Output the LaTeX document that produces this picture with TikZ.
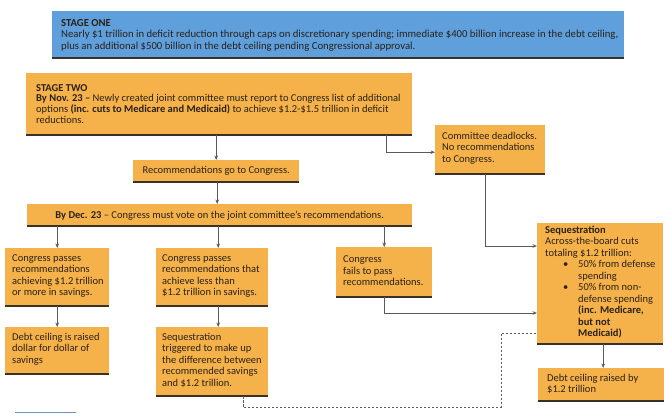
\documentclass[tikz,border=0pt]{standalone}
\usepackage{fontspec}
\setmainfont{Carlito}
\usetikzlibrary{arrows.meta,calc}
\definecolor{orng}{HTML}{F5B24A}
\definecolor{blu}{HTML}{5E9FDC}
\definecolor{edge}{HTML}{3A3129}
\definecolor{txt}{HTML}{2B2118}
\definecolor{arrc}{HTML}{5A5A5A}
\newcommand{\tb}[5]{\vbox to #2pt{\hsize=#1pt\parindent=0pt\leftskip=#3pt\rightskip=0pt plus 1fil\parfillskip=0pt plus 1fil\vskip#4pt\relax #5\par\vfil}}
\tikzset{
  base/.style={inner sep=0pt, anchor=north west, text=txt,
    path picture={\draw[edge, line width=3.2pt] (path picture bounding box.south west) -- (path picture bounding box.south east);}},
  obox/.style={base, fill=orng, font=\fontsize{10.5}{11.5}\selectfont},
  bbox/.style={base, fill=blu, font=\fontsize{10.7}{11.4}\selectfont},
  cbox/.style={obox, anchor=north west, align=center},
  arr/.style={draw=arrc, line width=0.9pt, -{Stealth[length=4.5pt,width=3.6pt]}},
  dsh/.style={draw=arrc, line width=0.9pt, dash pattern=on 2.2pt off 1.8pt},
}
\begin{document}
\begin{tikzpicture}[x=1pt,y=-1pt]
\useasboundingbox (0,0) rectangle (670,413);
\node[bbox] (s1) at (52,11) {\tb{572}{47}{9}{8}{\textbf{STAGE ONE}\\
Nearly \$1 trillion in deficit reduction through caps on discretionary spending; immediate \$400 billion increase in the debt ceiling,\\
plus an additional \$500 billion in the debt ceiling pending Congressional approval.}};
\node[obox] (s2) at (26,73) {\tb{386}{62}{10}{11}{\fontsize{10.5}{10.8}\selectfont\textbf{STAGE TWO}\\
\textbf{By Nov. 23 –} Newly created joint committee must report to Congress list of additional\\
options \textbf{(inc. cuts to Medicare and Medicaid)} to achieve \$1.2-\$1.5 trillion in deficit\\
reductions.}};
\node[obox] (com) at (435,125) {\tb{110}{49}{7}{7}{Committee deadlocks.\\ No recommendations\\ to Congress.}};
\node[cbox, minimum width=166pt, minimum height=22pt] (rec) at (133,160) {Recommendations go to Congress.};
\node[cbox, minimum width=385pt, minimum height=22pt] (dec) at (27,204) {\textbf{By Dec. 23} – Congress must vote on the joint committee’s recommendations.};
\node[obox] (a) at (5,248) {\tb{104}{58}{7}{6}{Congress passes\\ recommendations\\ achieving \$1.2 trillion\\ or more in savings.}};
\node[obox] (b) at (156,248) {\tb{112}{58}{6}{6}{Congress passes\\ recommendations that\\ achieve less than\\ \$1.2 trillion in savings.}};
\node[obox] (c) at (336,247) {\tb{96}{50}{7}{8.5}{Congress\\ fails to pass\\ recommendations.}};
\node[obox] (seq) at (537,223) {\tb{126}{121}{8}{2.5}{\textbf{Sequestration}\\
Across-the-board cuts\\
totaling \$1.2 trillion:\\
\hspace*{18pt}\makebox[15pt][l]{\textbullet}50\% from defense\\
\hspace*{33pt}spending\\
\hspace*{18pt}\makebox[15pt][l]{\textbullet}50\% from non-\\
\hspace*{33pt}defense spending\\
\hspace*{33pt}\textbf{(inc. Medicare,}\\
\hspace*{33pt}\textbf{but not}\\
\hspace*{33pt}\textbf{Medicaid)}}};
\node[obox] (d) at (5,327) {\tb{104}{47}{7}{6}{Debt ceiling is raised\\ dollar for dollar of\\ savings}};
\node[obox] (e) at (156,327) {\tb{112}{69}{6}{6}{Sequestration\\ triggered to make up\\ the difference between\\ recommended savings\\ and \$1.2 trillion.}};
\node[obox] (f) at (538,368) {\tb{126}{33}{9}{6}{Debt ceiling raised by\\ \$1.2 trillion}};
% connectors
\draw[arr] (rec.north |- s2.south) -- (rec.north);
\draw[arr] ([xshift=-26pt]s2.south east) |- ([yshift=-2.5pt]com.west);
\draw[arr] ([xshift=-5pt]com.south) |- ($(seq.north west)+(0,23)$);
\draw[arr] ([xshift=1pt]rec.south) -- ([xshift=1pt]rec.south |- dec.north);
\draw[arr] (a.north |- dec.south) -- (a.north);
\draw[arr] ([xshift=6pt]b.north |- dec.south) -- ([xshift=6pt]b.north);
\draw[arr] (c.north |- dec.south) -- (c.north);
\draw[arr] (c.south) |- ($(seq.north west)+(0,90)$);
\draw[arr] (a.south) -- (d.north);
\draw[arr] ([xshift=6pt]b.south) -- ([xshift=6pt]e.north);
\draw[arr] ([xshift=3pt]seq.south) -- ([xshift=3pt]seq.south |- f.north);
\draw[dsh] ([xshift=31pt]e.south) -- ++(0,11) -| ($(seq.north west)+(-36,110)$) -- ($(seq.north west)+(0,110)$);
\draw[draw=blu!60!gray, line width=1pt] (15,412.5) -- (76,412.5);
\end{tikzpicture}
\end{document}
